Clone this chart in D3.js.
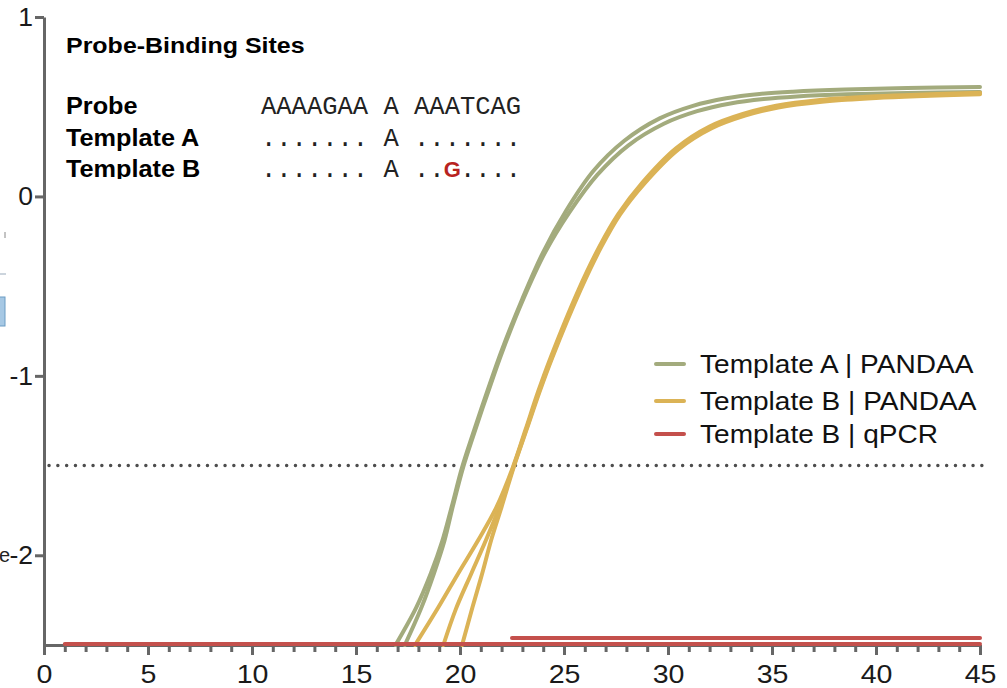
<!DOCTYPE html>
<html>
<head>
<meta charset="utf-8">
<script src="https://cdn.jsdelivr.net/npm/d3@7"></script>
<style>
  body { margin: 0; background: #fff; }
  svg { display: block; }
</style>
</head>
<body>
<div id="container"></div>
<script>
/* CONSTANTS AND GLOBALS */
const width = 1007,
  height = 688;

/* DATA (cycle, log dRn) */
const cycleTicks = [0, 5, 10, 15, 20, 25, 30, 35, 40, 45];
const cycleMinor = d3.range(0, 46);
const logTicks = [1, 0, -1, -2];
const threshold = -1.5;

// Template A | PANDAA, two replicates
const templateA1 = [
  [16.9, -2.5], [17.9, -2.29], [18.6, -2.1], [19.15, -1.92], [19.6, -1.73],
  [20.1, -1.51], [20.6, -1.33], [21.3, -1.09], [22.0, -0.86], [23.0, -0.57],
  [24.0, -0.31], [25.1, -0.08], [26.4, 0.14], [27.9, 0.31], [29.6, 0.435],
  [31.2, 0.505], [32.8, 0.547], [34.4, 0.571], [36.0, 0.584], [38.5, 0.596],
  [41.5, 0.604], [45, 0.61]
];
const templateA2 = [
  [17.35, -2.5], [18.15, -2.29], [18.75, -2.1], [19.25, -1.92], [19.65, -1.73],
  [20.15, -1.51], [20.65, -1.33], [21.35, -1.09], [22.05, -0.86], [23.05, -0.57],
  [24.1, -0.31], [25.25, -0.09], [26.6, 0.12], [28.1, 0.285], [29.8, 0.405],
  [31.4, 0.475], [33.0, 0.518], [34.6, 0.543], [36.2, 0.557], [38.6, 0.569],
  [41.5, 0.577], [45, 0.582]
];

// Template B | PANDAA, three replicates
const templateB1 = [
  [17.84, -2.5], [18.96, -2.29], [19.92, -2.1], [20.88, -1.915], [21.76, -1.73],
  [22.54, -1.51], [23.15, -1.3], [23.75, -1.09], [24.35, -0.9], [25.7, -0.52],
  [26.7, -0.28], [27.6, -0.1], [28.75, 0.075], [30.4, 0.27], [32.0, 0.39],
  [33.6, 0.46], [35.2, 0.505], [37.3, 0.537], [40, 0.558], [45, 0.578]
];
const templateB2 = [
  [19.2, -2.5], [19.8, -2.3], [20.55, -2.1], [21.25, -1.915], [21.9, -1.73],
  [22.56, -1.51], [23.18, -1.3], [23.79, -1.09], [24.4, -0.9], [25.75, -0.52],
  [26.75, -0.28], [27.65, -0.1], [28.8, 0.072], [30.45, 0.265], [32.05, 0.385],
  [33.65, 0.455], [35.25, 0.5], [37.35, 0.532], [40, 0.553], [45, 0.574]
];
const templateB3 = [
  [20.1, -2.5], [20.6, -2.29], [21.07, -2.1], [21.5, -1.915], [22.0, -1.73],
  [22.58, -1.51], [23.2, -1.3], [23.82, -1.09], [24.43, -0.9], [25.8, -0.52],
  [26.8, -0.28], [27.7, -0.1], [28.85, 0.07], [30.5, 0.262], [32.1, 0.38],
  [33.7, 0.45], [35.3, 0.496], [37.4, 0.528], [40, 0.549], [45, 0.57]
];

// Template B | qPCR, flat near the bottom
const qpcrB1 = [[1, -2.495], [45, -2.495]];
const qpcrB2 = [[22.5, -2.461], [45, -2.461]];

const seriesNames = ["Template A | PANDAA", "Template B | PANDAA", "Template B | qPCR"];
const seriesColors = ["#a3ab7d", "#dbb356", "#c4504c"];

const bindingRows = ["Probe", "Template A", "Template B"];
const bindingSeqs = ["AAAAGAA A AAATCAG", "....... A .......", "....... A .."];
const mismatch = "G";
const mismatchTail = "....";

/* SCALES */
const xScale = d3.scaleLinear().domain([0, 45]).range([44, 980]);
const yScale = d3.scaleLinear().domain([-2.5, 1]).range([645, 17]);

const svg = d3.select("#container")
  .append("svg")
  .attr("width", width)
  .attr("height", height)
  .style("font-family", "'Liberation Sans', Arial, sans-serif");

// the picture's type is a little wider than Arial: stretch texts sideways
function stretch(sel, factor) {
  sel.each(function () {
    const len = this.getComputedTextLength();
    d3.select(this)
      .attr("textLength", len * factor)
      .attr("lengthAdjust", "spacingAndGlyphs");
  });
}

// bits of a neighbouring panel cropped at the left edge
svg.append("rect")
  .attr("x", -2).attr("y", 297).attr("width", 7).attr("height", 29)
  .attr("fill", "#a6c8e4").attr("stroke", "#6b9cc4").attr("stroke-width", 1);
svg.append("line").attr("x1", 5).attr("x2", 5).attr("y1", 232).attr("y2", 238)
  .attr("stroke", "#888").attr("stroke-width", 1);
svg.append("line").attr("x1", 0).attr("x2", 6).attr("y1", 274).attr("y2", 274)
  .attr("stroke", "#9ab").attr("stroke-width", 1);
svg.append("text")
  .attr("x", -1).attr("y", yScale(-2)).attr("dy", "0.35em")
  .attr("font-size", 20).attr("fill", "#222")
  .text("e");

/* THRESHOLD */
svg.append("line")
  .attr("x1", xScale(0) + 5).attr("x2", xScale(45) + 4)
  .attr("y1", yScale(threshold)).attr("y2", yScale(threshold))
  .attr("stroke", "#4d4d4d")
  .attr("stroke-width", 3.4)
  .attr("stroke-linecap", "round")
  .attr("stroke-dasharray", "0.1 8.7");

/* AXES */
const xAxisMinor = d3.axisBottom(xScale)
  .tickValues(cycleMinor).tickSize(7).tickSizeOuter(0).tickFormat("");
const xAxis = d3.axisBottom(xScale)
  .tickValues(cycleTicks).tickSize(10).tickSizeOuter(0).tickPadding(10)
  .tickFormat(d => String(d));
const yAxis = d3.axisLeft(yScale)
  .tickValues(logTicks).tickSize(9).tickSizeOuter(0).tickPadding(2)
  .tickFormat(d => String(d));

function styleAxis(g, factor) {
  g.selectAll("path, line").attr("stroke", "#666").attr("stroke-width", 3);
  g.selectAll("text")
    .attr("font-size", 25.5)
    .attr("fill", "#1a1a1a")
    .attr("font-family", "'Liberation Sans', Arial, sans-serif")
    .call(stretch, factor);
}

svg.append("g")
  .attr("transform", `translate(0,${yScale(-2.5)})`)
  .call(xAxisMinor).call(styleAxis, 1);
svg.append("g")
  .attr("transform", `translate(0,${yScale(-2.5)})`)
  .call(xAxis).call(styleAxis, 1.12);
svg.append("g")
  .attr("transform", `translate(${xScale(0)},0)`)
  .call(yAxis).call(styleAxis, 1.04);

/* CURVES */
const line = d3.line()
  .x(d => xScale(d[0]))
  .y(d => yScale(d[1]))
  .curve(d3.curveCatmullRom.alpha(0.5));

const curves = [
  { pts: templateA1, c: seriesColors[0] },
  { pts: templateA2, c: seriesColors[0] },
  { pts: templateB1, c: seriesColors[1] },
  { pts: templateB2, c: seriesColors[1] },
  { pts: templateB3, c: seriesColors[1] },
  { pts: qpcrB1, c: seriesColors[2] },
  { pts: qpcrB2, c: seriesColors[2] }
];

svg.append("g")
  .selectAll("path")
  .data(curves)
  .join("path")
  .attr("d", d => line(d.pts))
  .attr("fill", "none")
  .attr("stroke", d => d.c)
  .attr("stroke-width", 4)
  .attr("stroke-linecap", "round");

/* LEGEND */
const legend = svg.append("g")
  .selectAll("g")
  .data(seriesNames)
  .join("g")
  .attr("transform", (d, i) => `translate(656,${[364, 401, 434][i]})`);

legend.append("line")
  .attr("x1", 0).attr("x2", 28)
  .attr("stroke", (d, i) => seriesColors[i])
  .attr("stroke-width", 4)
  .attr("stroke-linecap", "round");

legend.append("text")
  .attr("x", 44).attr("dy", "0.36em")
  .attr("font-size", 25.5)
  .attr("fill", "#111")
  .text(d => d)
  .call(stretch, 1.1);

/* PROBE-BINDING SITES ANNOTATION */
svg.append("clipPath").attr("id", "noteClip")
  .append("rect").attr("x", 0).attr("y", 0).attr("width", 600).attr("height", 179);

const note = svg.append("g").attr("clip-path", "url(#noteClip)");

note.append("text")
  .attr("x", 66).attr("y", 53)
  .attr("font-size", 22).attr("font-weight", "bold")
  .attr("fill", "#000")
  .text("Probe-Binding Sites")
  .call(stretch, 1.135);

const rowY = [114, 146, 177];
const seqX = 261,
  charW = 15.3;

note.selectAll("text.row")
  .data(bindingRows)
  .join("text")
  .attr("class", "row")
  .attr("x", 66).attr("y", (d, i) => rowY[i])
  .attr("font-size", 23.5).attr("font-weight", "bold")
  .attr("fill", "#000")
  .text(d => d)
  .call(stretch, 1.075);

note.selectAll("text.seq")
  .data(bindingSeqs)
  .join("text")
  .attr("class", "seq")
  .attr("x", seqX).attr("y", (d, i) => rowY[i])
  .attr("font-family", "'Liberation Mono', 'Courier New', monospace")
  .attr("font-size", 25.5)
  .attr("fill", "#222")
  .attr("xml:space", "preserve")
  .style("white-space", "pre")
  .text(d => d);

// the mismatched base in template B
note.append("text")
  .attr("x", seqX + 12.5 * charW).attr("y", rowY[2])
  .attr("text-anchor", "middle")
  .attr("font-size", 22).attr("font-weight", "bold")
  .attr("fill", "#b8231f")
  .text(mismatch);

note.append("text")
  .attr("x", seqX + 13 * charW).attr("y", rowY[2])
  .attr("font-family", "'Liberation Mono', 'Courier New', monospace")
  .attr("font-size", 25.5)
  .attr("fill", "#222")
  .text(mismatchTail);
</script>
</body>
</html>
